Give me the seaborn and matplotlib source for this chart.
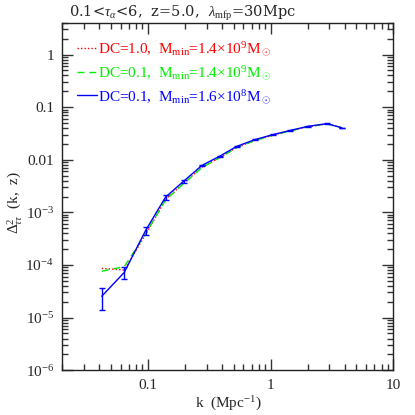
import numpy as np
import pandas as pd
import seaborn as sns
import matplotlib.pyplot as plt
from matplotlib.ticker import FixedLocator, FuncFormatter, LogLocator, NullFormatter

# ---- data ----
k = [0.042, 0.064, 0.0955, 0.139, 0.195, 0.275, 0.385, 0.53, 0.74, 1.04, 1.44, 2.0, 2.87, 3.8]
dc10_m14 = [8.6e-5, 8.0e-5, 3.8e-4, 1.75e-3, 3.55e-3, 7.2e-3, 0.0111, 0.0171, 0.0232, 0.0292, 0.0354, 0.0424, 0.0480, 0.0405]
dc01_m14 = [7.6e-5, 9.3e-5, 3.9e-4, 1.72e-3, 3.5e-3, 7.1e-3, 0.0110, 0.0170, 0.0231, 0.0291, 0.0353, 0.0423, 0.0480, 0.0405]
dc01_m16 = [2.55e-5, 7.2e-5, 4.5e-4, 1.95e-3, 3.9e-3, 7.8e-3, 0.0117, 0.0180, 0.0240, 0.0300, 0.0360, 0.0430, 0.0485, 0.0405]
dc01_m16_err = [1.15e-5, 1.9e-5, 8.5e-5, 2.0e-4, 2.5e-4, 3e-4, 3e-4, 4e-4, 3e-4, 3e-4, 3e-4, 3e-4, 4e-4, 2e-4]

labels = [r"DC=1.0,  M$_{\rm min}$=1.4×10$^9$M$_\odot$",
          r"DC=0.1,  M$_{\rm min}$=1.4×10$^9$M$_\odot$",
          r"DC=0.1,  M$_{\rm min}$=1.6×10$^8$M$_\odot$"]

sns.set_style("ticks")
plt.rcParams['font.family'] = ['Liberation Serif', 'DejaVu Serif']
plt.rcParams['mathtext.fontset'] = 'custom'
plt.rcParams['mathtext.rm'] = 'Liberation Serif'
plt.rcParams['mathtext.it'] = 'Liberation Serif:italic'

fig = plt.figure(figsize=(4.15, 4.15), dpi=100)
ax = fig.add_axes([0.150, 0.108, 0.798, 0.837])

df = pd.DataFrame({'k': k * 3,
                   'val': dc10_m14 + dc01_m14 + dc01_m16,
                   'run': [labels[0]] * len(k) + [labels[1]] * len(k) + [labels[2]] * len(k)})

pal = {labels[0]: '#ff0000', labels[1]: '#00ee00', labels[2]: '#0000ff'}
sns.lineplot(data=df[df.run == labels[0]], x='k', y='val', color=pal[labels[0]], lw=1.0,
             linestyle=(0, (1, 1.5)), ax=ax, label=labels[0])
sns.lineplot(data=df[df.run == labels[1]], x='k', y='val', color=pal[labels[1]], lw=1.0,
             linestyle=(0, (5, 3.5)), ax=ax, label=labels[1])
sns.lineplot(data=df[df.run == labels[2]], x='k', y='val', color=pal[labels[2]], lw=1.0,
             ax=ax, label=labels[2])
ax.errorbar(k, dc01_m16, yerr=dc01_m16_err, fmt='none', ecolor='#0000ff', elinewidth=1.0,
            capsize=2.2, capthick=1.0)

ax.set_xscale('log')
ax.set_yscale('log')
ax.set_xlim(0.02, 10)
ax.set_ylim(1e-6, 4)

def yfmt(v, pos):
    e = int(round(np.log10(v)))
    if e >= -2:
        return {0: '1', -1: '0.1', -2: '0.01'}[e]
    return r"10$^{%d}$" % e

ax.yaxis.set_major_locator(FixedLocator([1e-6, 1e-5, 1e-4, 1e-3, 1e-2, 1e-1, 1]))
ax.yaxis.set_major_formatter(FuncFormatter(yfmt))
ax.yaxis.set_minor_locator(LogLocator(base=10, subs=np.arange(2, 10), numticks=20))
ax.yaxis.set_minor_formatter(NullFormatter())
ax.xaxis.set_major_locator(FixedLocator([0.1, 1, 10]))
ax.xaxis.set_major_formatter(FuncFormatter(lambda v, p: {0.1: '0.1', 1: '1', 10: '10'}.get(round(v, 3), '')))
ax.xaxis.set_minor_locator(LogLocator(base=10, subs=np.arange(2, 10), numticks=20))
ax.xaxis.set_minor_formatter(NullFormatter())

ax.tick_params(which='both', direction='in', top=True, right=True, labelsize=11, width=1.0, color='#333333')
ax.tick_params(which='major', length=8, pad=6)
ax.tick_params(which='minor', length=4)
for s in ax.spines.values():
    s.set_linewidth(1.0)
    s.set_color('#222222')

ax.set_xlabel(r"k  (Mpc$^{-1}$)", fontsize=11)
ax.xaxis.set_label_coords(0.5, -0.098)
ax.xaxis.label.set_va('center')
ax.set_ylabel(r"$\Delta^2_{\tau\tau}$  (k,  z)", fontsize=11)
ax.yaxis.set_label_coords(-0.116, 0.482)

fig.text(69 / 415, 1 - 17 / 415, r"0.1<$\tau_\alpha$<6,  z=5.0,  $\lambda_{\rm mfp}$=30Mpc",
         fontsize=10.5, family='DejaVu Serif', ha='left', va='baseline')

leg = ax.legend(loc='upper left', bbox_to_anchor=(0.044, 0.95), frameon=False, fontsize=11,
                handlelength=1.3, handletextpad=0.1, labelspacing=0.38, borderaxespad=0,
                borderpad=0, labelcolor='linecolor')

fig.savefig('out.png', dpi=100)
